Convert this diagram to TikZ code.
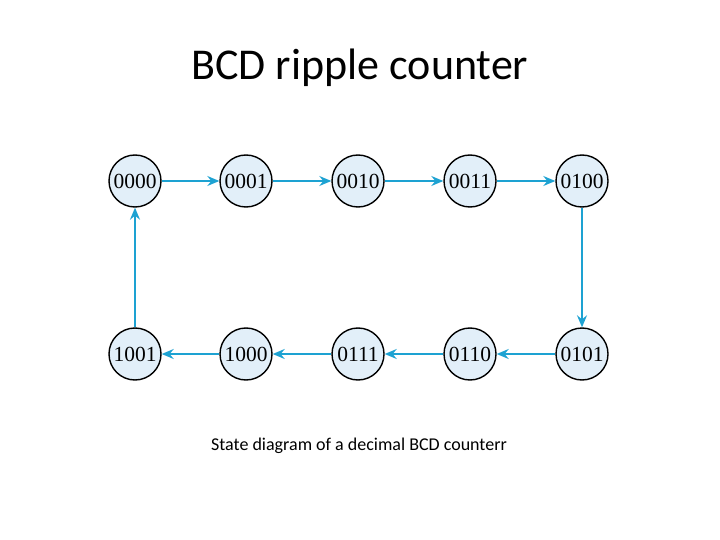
\documentclass[tikz,border=0pt]{standalone}
\usepackage{fontspec}
\setmainfont{Carlito}
\newfontfamily\stfont{Liberation Serif}
\usetikzlibrary{arrows.meta}
\definecolor{arrowblue}{HTML}{1DA2D2}
\definecolor{statefill}{HTML}{E2EFF9}
\begin{document}
\begin{tikzpicture}[x=1pt,y=-1pt,
  state/.style={circle,draw=black,line width=1.4pt,fill=statefill,minimum size=52pt,inner sep=0pt,font=\stfont\fontsize{21.5}{21.5}\selectfont},
  trans/.style={draw=arrowblue,line width=1.5pt,-{Stealth[length=12pt,width=10pt,inset=4pt]}}]
\useasboundingbox (0,0) rectangle (720,540);
\node[font=\fontsize{44}{44}\selectfont] (title) at (360,68) {BCD ripple counter};
\node (s0) [state] at (135,181) {0000};
\node (s1) [state] at (246,181) {0001};
\node (s2) [state] at (358,181) {0010};
\node (s3) [state] at (470,181) {0011};
\node (s4) [state] at (582,181) {0100};
\node (s5) [state] at (582,354) {0101};
\node (s6) [state] at (470,354) {0110};
\node (s7) [state] at (358,354) {0111};
\node (s8) [state] at (246,354) {1000};
\node (s9) [state] at (135,354) {1001};
\draw[trans] (s0) -- (s1);
\draw[trans] (s1) -- (s2);
\draw[trans] (s2) -- (s3);
\draw[trans] (s3) -- (s4);
\draw[trans] (s4) -- (s5);
\draw[trans] (s5) -- (s6);
\draw[trans] (s6) -- (s7);
\draw[trans] (s7) -- (s8);
\draw[trans] (s8) -- (s9);
\draw[trans] (s9) -- (s0);
\node[font=\fontsize{18}{18}\selectfont] (caption) at (359,446) {State diagram of a decimal BCD counterr};
\end{tikzpicture}
\end{document}
